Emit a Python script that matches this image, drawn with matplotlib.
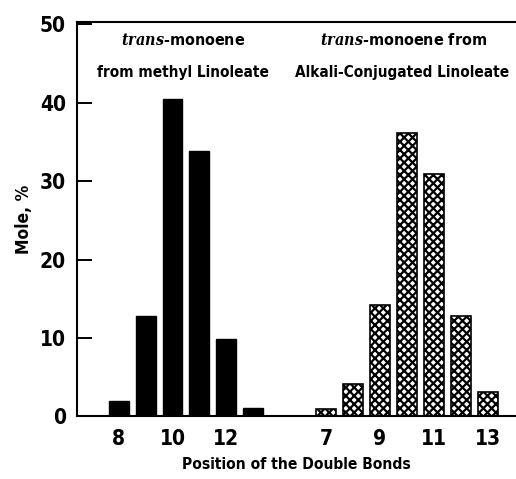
import matplotlib.pyplot as plt

# positions of the double bond and mole %
methyl_pos = [8, 9, 10, 11, 12, 13]
methyl_vals = [2.0, 12.8, 40.5, 33.8, 9.9, 1.1]

conj_pos = [7, 8, 9, 10, 11, 12, 13]
conj_vals = [0.9, 4.1, 14.2, 36.2, 30.9, 12.8, 3.1]

methyl_ticks = ['8', '10', '12']
conj_ticks = ['7', '9', '11', '13']

SHIFT = 8.7  # gap between the two groups on the x axis

plt.rcParams['font.family'] = ['DejaVu Sans']
plt.rcParams['font.stretch'] = 'condensed'
plt.rcParams['font.weight'] = 'bold'
plt.rcParams['mathtext.fontset'] = 'custom'
plt.rcParams['mathtext.it'] = 'DejaVu Serif:italic'
plt.rcParams['hatch.linewidth'] = 1.6

fig = plt.figure(figsize=(5.16, 4.79), dpi=100)
ax = fig.add_axes([0.149, 0.131, 0.851, 0.823])

ax.bar(methyl_pos, methyl_vals, width=0.74, color='black', edgecolor='black')
ax.bar([p + SHIFT for p in conj_pos], conj_vals, width=0.74, color='white',
       edgecolor='black', hatch='xxxx', linewidth=1.2)

ax.set_xlim(6.45, 22.75)
ax.set_ylim(0, 50.3)
ax.set_yticks([0, 10, 20, 30, 40, 50])
ax.set_xticks([8, 10, 12] + [p + SHIFT for p in [7, 9, 11, 13]])
ax.set_xticklabels(methyl_ticks + conj_ticks)

ax.tick_params(axis='y', direction='in', length=11, width=1.4, labelsize=15, pad=8)
ax.tick_params(axis='x', length=0, labelsize=15, pad=9)
for s in ['left', 'top', 'bottom']:
    ax.spines[s].set_linewidth(1.5)
ax.spines['right'].set_visible(False)

ax.set_xlabel('Position of the Double Bonds', fontsize=11.2, fontweight='bold', labelpad=6)
ax.set_ylabel('Mole, %', fontsize=12.5, fontweight='bold', labelpad=5)

ax.text(10.39, 48.0, r'$\mathit{trans}$-monoene', ha='center', va='center', fontsize=11.5)
ax.text(10.39, 43.9, 'from methyl Linoleate', ha='center', va='center', fontsize=11)
ax.text(18.56, 48.0, r'$\mathit{trans}$-monoene from', ha='center', va='center', fontsize=11.5)
ax.text(18.52, 43.9, 'Alkali-Conjugated Linoleate', ha='center', va='center', fontsize=11)

fig.savefig('out.png', dpi=100)
